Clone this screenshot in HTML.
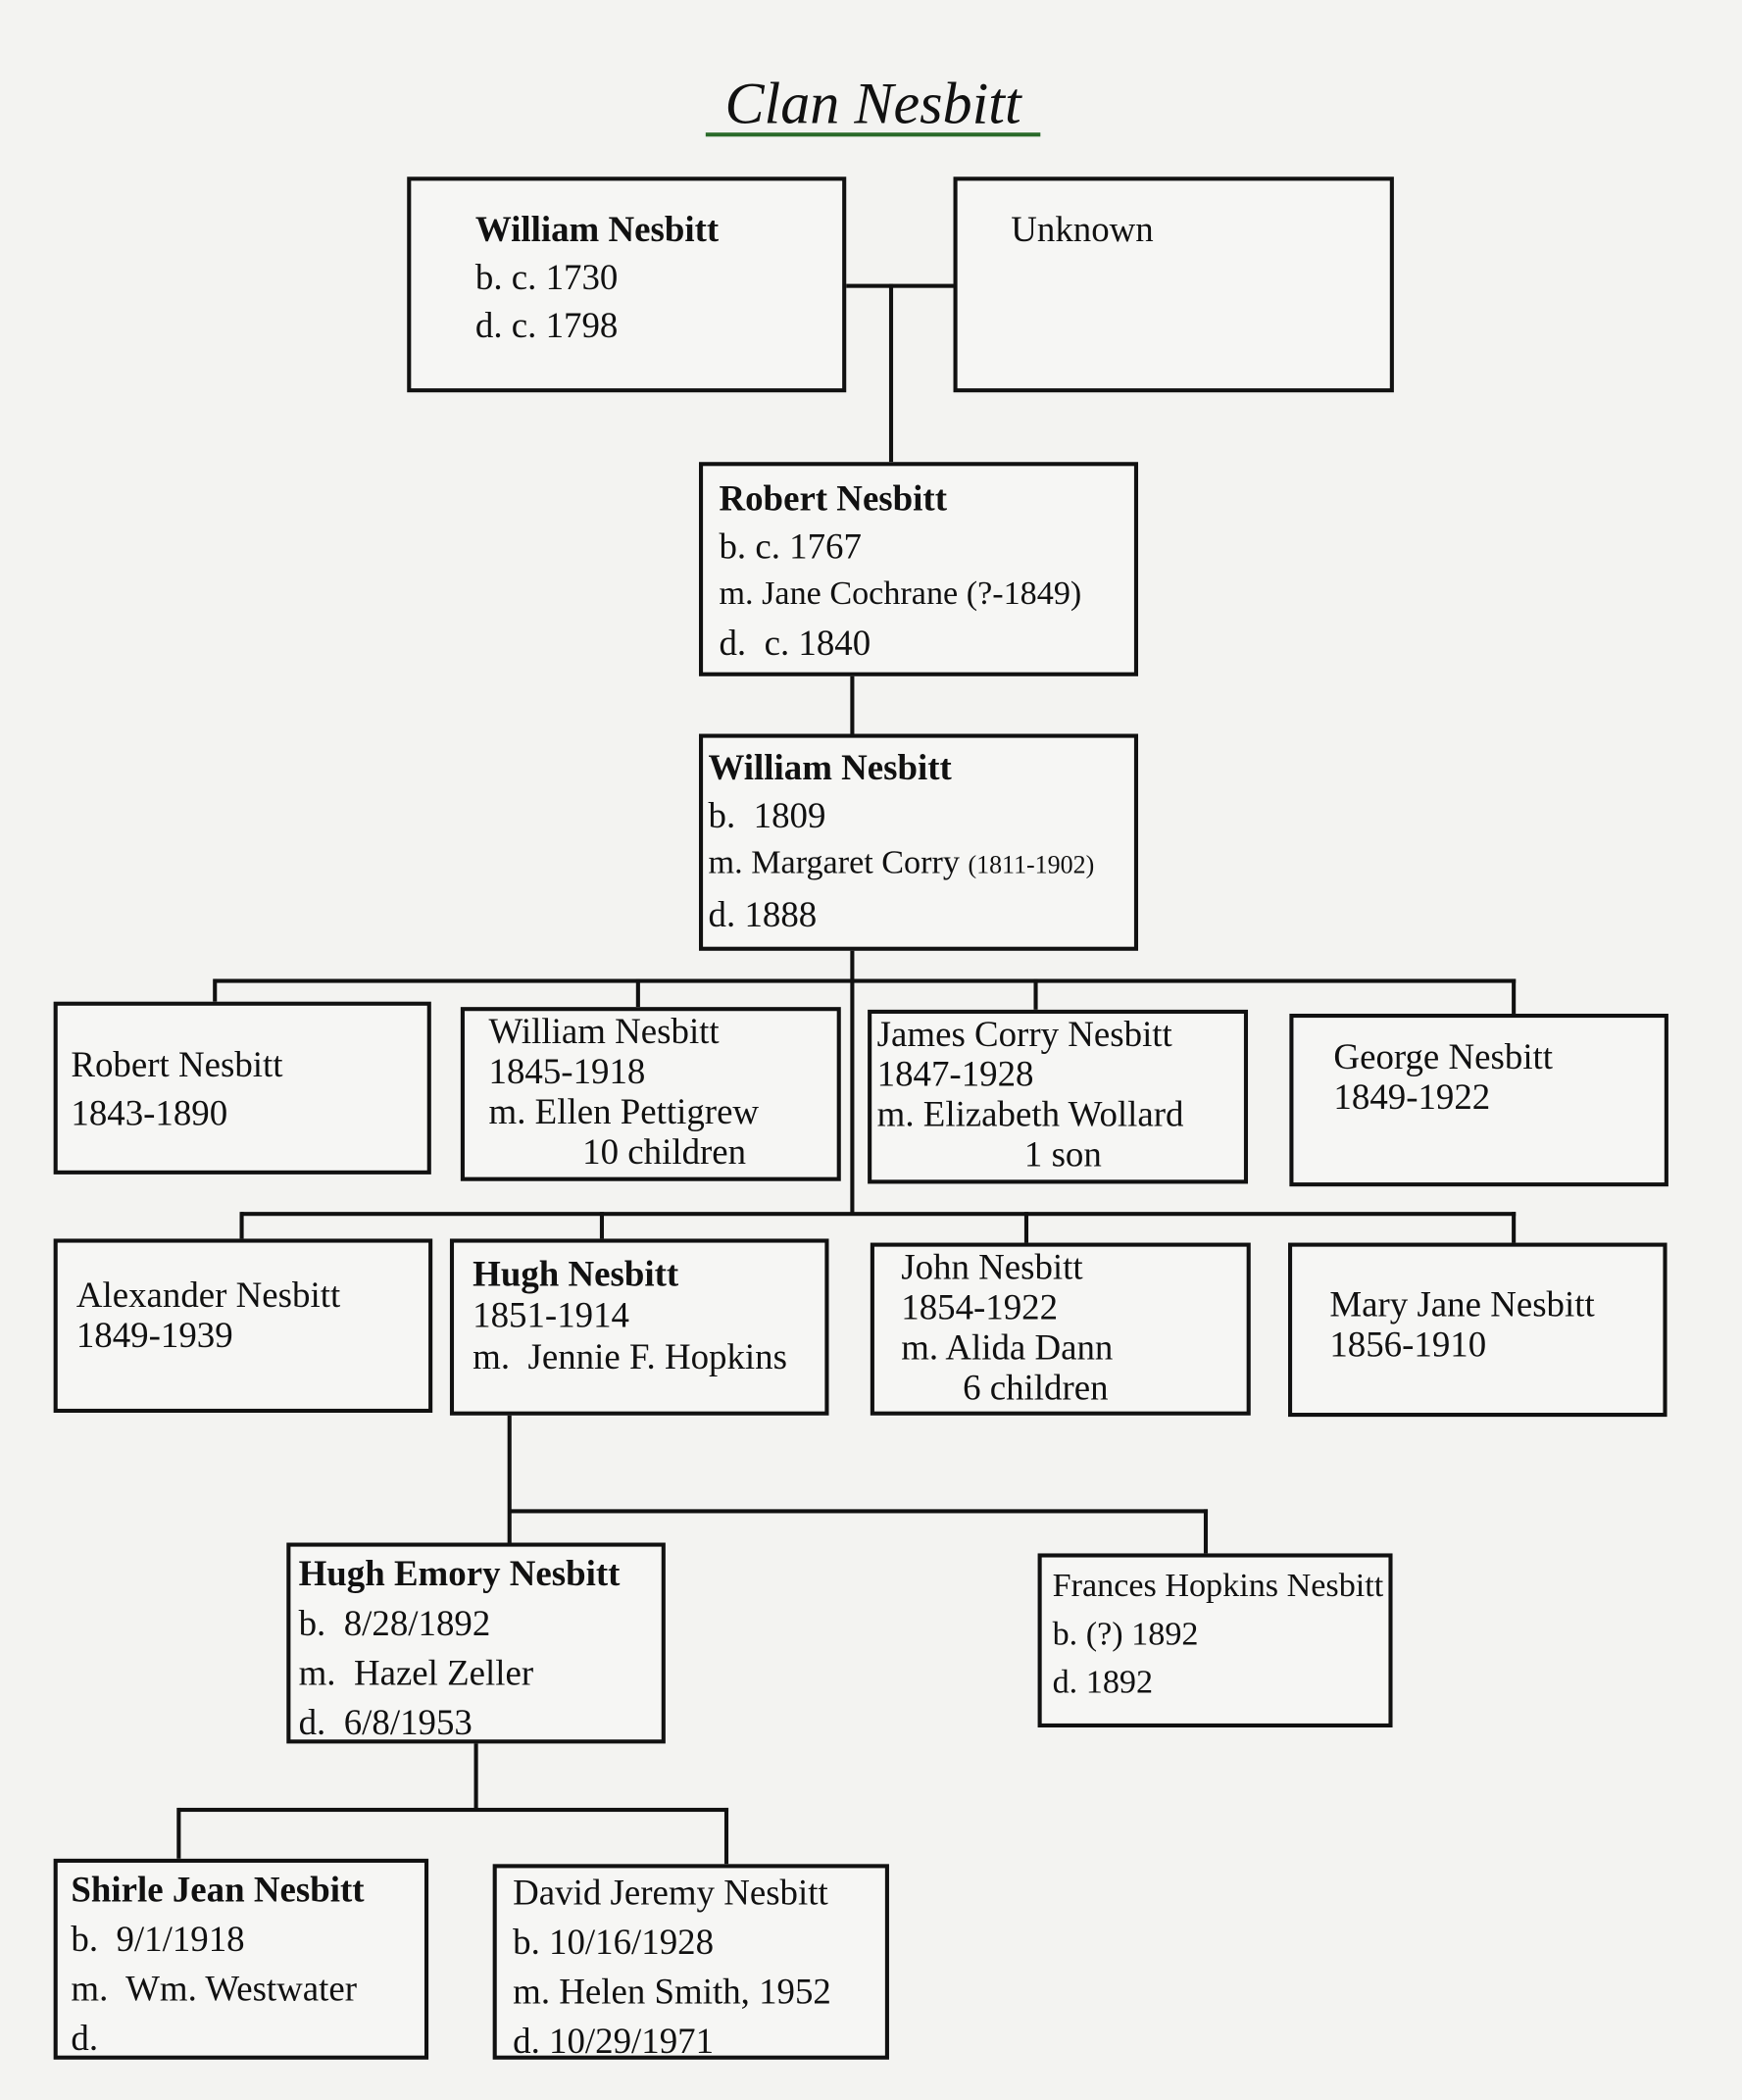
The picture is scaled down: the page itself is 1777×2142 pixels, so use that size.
<!DOCTYPE html>
<html><head><meta charset="utf-8">
<style>
html,body{margin:0;padding:0;background:#f3f3f1;}
body{width:1777px;height:2141px;overflow:hidden;}
#c{position:absolute;left:0;top:0;width:1301px;height:1568px;transform-origin:0 0;transform:scale(1.3659);font-family:"Liberation Serif",serif;color:#111;}
.b{position:absolute;border:3px solid #111;box-sizing:border-box;background:#f6f6f4;font-size:27px;line-height:36px;}
.b div{white-space:nowrap}
.h{position:absolute;height:3px;background:#111}
.v{position:absolute;width:3px;background:#111}
b{font-weight:bold}
</style></head><body><div id="c">
<div style="position:absolute;left:527px;top:52px;width:250px;text-align:center;font-size:44px;font-style:italic;">Clan Nesbitt</div>
<div class="h" style="left:527px;top:99px;width:250px;background:#2a6a2a"></div>

<div class="b" style="left:304px;top:132px;width:328px;height:161px;padding:18px 0 0 48px"><div><b>William Nesbitt</b></div><div>b. c. 1730</div><div>d. c. 1798</div></div>
<div class="b" style="left:712px;top:132px;width:329px;height:161px;padding:18px 0 0 40px"><div>Unknown</div></div>
<div class="h" style="left:632px;top:212px;width:80px"></div>
<div class="v" style="left:664px;top:212px;height:133px"></div>

<div class="b" style="left:522px;top:345px;width:328px;height:160px;padding:6px 0 0 12px"><div><b>Robert Nesbitt</b></div><div>b. c. 1767</div><div style="font-size:25px">m. Jane Cochrane (?-1849)</div><div>d.&nbsp; c. 1840</div></div>
<div class="v" style="left:635px;top:505px;height:43px"></div>

<div class="b" style="left:522px;top:548px;width:328px;height:162px;padding:4px 0 0 4px"><div><b>William Nesbitt</b></div><div>b.&nbsp; 1809</div><div style="font-size:25px">m. Margaret Corry <span style="font-size:19px">(1811-1902)</span></div><div>d. 1888</div></div>

<div class="v" style="left:635px;top:710px;height:197px"></div>
<div class="h" style="left:160px;top:731px;width:972px"></div>
<div class="v" style="left:159px;top:731px;height:17px"></div>
<div class="v" style="left:475px;top:731px;height:21px"></div>
<div class="v" style="left:772px;top:731px;height:23px"></div>
<div class="v" style="left:1129px;top:731px;height:26px"></div>

<div class="b" style="left:40px;top:748px;width:282px;height:129px;padding:26px 0 0 10px"><div>Robert Nesbitt</div><div>1843-1890</div></div>
<div class="b" style="left:344px;top:752px;width:284px;height:130px;padding:0 0 0 18px;line-height:30px"><div>William Nesbitt</div><div>1845-1918</div><div>m. Ellen Pettigrew</div><div style="padding-left:70px">10 children</div></div>
<div class="b" style="left:648px;top:754px;width:284px;height:130px;padding:0 0 0 4px;line-height:30px"><div>James Corry Nesbitt</div><div>1847-1928</div><div>m. Elizabeth Wollard</div><div style="padding-left:110px">1 son</div></div>
<div class="b" style="left:963px;top:757px;width:283px;height:129px;padding:14px 0 0 30px;line-height:30px"><div>George Nesbitt</div><div>1849-1922</div></div>

<div class="h" style="left:180px;top:905px;width:952px"></div>
<div class="v" style="left:179px;top:905px;height:20px"></div>
<div class="v" style="left:448px;top:905px;height:20px"></div>
<div class="v" style="left:765px;top:905px;height:23px"></div>
<div class="v" style="left:1129px;top:905px;height:23px"></div>

<div class="b" style="left:40px;top:925px;width:283px;height:130px;padding:24px 0 0 14px;line-height:30px"><div>Alexander Nesbitt</div><div>1849-1939</div></div>
<div class="b" style="left:336px;top:925px;width:283px;height:132px;padding:8px 0 0 14px;line-height:31px"><div><b>Hugh Nesbitt</b></div><div>1851-1914</div><div>m.&nbsp; Jennie F. Hopkins</div></div>
<div class="b" style="left:650px;top:928px;width:284px;height:129px;padding:0 0 0 20px;line-height:30px"><div>John Nesbitt</div><div>1854-1922</div><div>m. Alida Dann</div><div style="padding-left:46px">6 children</div></div>
<div class="b" style="left:962px;top:928px;width:283px;height:130px;padding:28px 0 0 28px;line-height:30px"><div>Mary Jane Nesbitt</div><div>1856-1910</div></div>

<div class="v" style="left:379px;top:1057px;height:95px"></div>
<div class="h" style="left:380px;top:1127px;width:522px"></div>
<div class="v" style="left:899px;top:1127px;height:33px"></div>

<div class="b" style="left:214px;top:1152px;width:283px;height:150px;padding:2px 0 0 6px;line-height:37px"><div><b>Hugh Emory Nesbitt</b></div><div>b.&nbsp; 8/28/1892</div><div>m.&nbsp; Hazel Zeller</div><div>d.&nbsp; 6/8/1953</div></div>
<div class="b" style="left:775px;top:1160px;width:265px;height:130px;padding:4px 0 0 8px;line-height:36px;font-size:25px"><div>Frances Hopkins Nesbitt</div><div>b. (?) 1892</div><div>d. 1892</div></div>

<div class="v" style="left:354px;top:1302px;height:50px"></div>
<div class="h" style="left:133px;top:1350px;width:411px"></div>
<div class="v" style="left:132px;top:1350px;height:38px"></div>
<div class="v" style="left:541px;top:1350px;height:42px"></div>

<div class="b" style="left:40px;top:1388px;width:280px;height:150px;padding:2px 0 0 10px;line-height:37px"><div><b>Shirle Jean Nesbitt</b></div><div>b.&nbsp; 9/1/1918</div><div>m.&nbsp; Wm. Westwater</div><div>d.</div></div>
<div class="b" style="left:368px;top:1392px;width:296px;height:146px;padding:0 0 0 12px;line-height:37px"><div>David Jeremy Nesbitt</div><div>b. 10/16/1928</div><div>m. Helen Smith, 1952</div><div>d. 10/29/1971</div></div>
</div></body></html>
